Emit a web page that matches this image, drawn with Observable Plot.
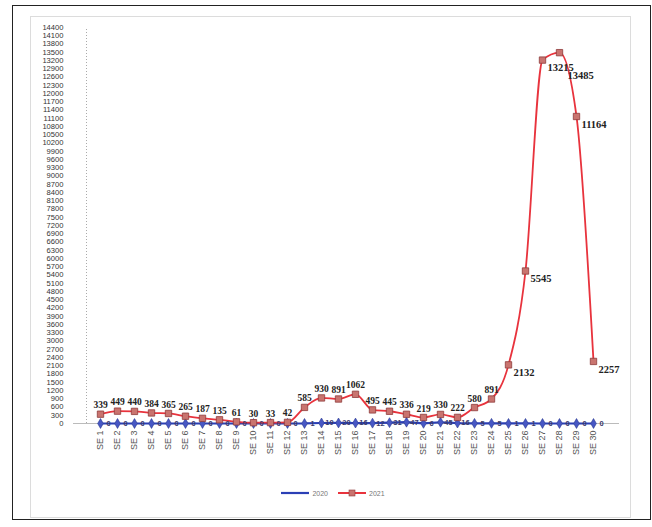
<!DOCTYPE html>
<html>
<head>
<meta charset="utf-8">
<script src="https://cdn.jsdelivr.net/npm/d3@7"></script>
<script src="https://cdn.jsdelivr.net/npm/@observablehq/plot@0.6"></script>
<style>
  body { margin: 0; background: #fff; }
  #wrap { position: relative; width: 652px; height: 527px; overflow: hidden; }
  #outer { position: absolute; left: 12px; top: 5px; width: 637px; height: 513px; border: 1.5px solid #222; }
  #inner { position: absolute; left: 30px; top: 16px; width: 599px; height: 500px; border: 1px solid #dcdcdc; }
  #chart { position: absolute; left: 0; top: 0; }
  #legend { position: absolute; left: 0; top: 489px; width: 652px; display: flex; justify-content: center; gap: 10px;
            font: 7px "Liberation Sans", sans-serif; color: #777; padding-left: 14px; box-sizing: border-box; }
  .item { display: flex; align-items: center; gap: 3px; }
</style>
</head>
<body>
<div id="wrap">
  <div id="outer"></div>
  <div id="inner"></div>
  <div id="chart"></div>
  <div id="legend"></div>
</div>
<script>
const categories = ["SE 1","SE 2","SE 3","SE 4","SE 5","SE 6","SE 7","SE 8","SE 9","SE 10",
  "SE 11","SE 12","SE 13","SE 14","SE 15","SE 16","SE 17","SE 18","SE 19","SE 20",
  "SE 21","SE 22","SE 23","SE 24","SE 25","SE 26","SE 27","SE 28","SE 29","SE 30"];
const values2020 = [0,0,0,0,0,0,0,0,0,0,0,0,1,19,20,16,12,31,47,6,45,16,5,5,1,1,0,0,0,0];
const values2021 = [339,449,440,384,365,265,187,135,61,30,33,42,585,930,891,1062,495,445,336,219,330,222,580,891,2132,5545,13215,13485,11164,2257];
const seriesNames = ["2020", "2021"];
const yTicks = d3.range(0, 14401, 300);

const rows2020 = categories.map((c, i) => ({cat: c, v: values2020[i]}));
const rows2021 = categories.map((c, i) => ({cat: c, v: values2021[i]}));
const peak = d3.max(values2021);

const red = "#e8333d";
const blue = "#2b3fb5";

const chart = Plot.plot({
  width: 652,
  height: 485,
  marginTop: 27,
  marginBottom: 62,
  marginLeft: 73,
  marginRight: 33,
  style: {fontFamily: "'Liberation Sans', sans-serif", background: "transparent"},
  x: {type: "point", domain: categories, padding: 0.784, label: null},
  y: {domain: [0, 14400], label: null},
  marks: [
    Plot.axisY({ticks: yTicks, tickFormat: d3.format("d"), tickSize: 0, tickPadding: 10, fontSize: 7.6, fill: "#333", label: null}),
    Plot.axisX({tickRotate: -90, tickSize: 0, tickPadding: 7, fontSize: 9, fill: "#555", label: null}),
    Plot.ruleX([categories[0]], {dx: -14, stroke: "#aaa", strokeDasharray: "1,2", y1: 0, y2: 14400}),
    Plot.ruleY([0], {stroke: "#bbb"}),
    Plot.line(rows2020, {x: "cat", y: "v", stroke: blue, strokeWidth: 2.2}),
    Plot.dot(rows2020, {x: "cat", y: "v", symbol: "diamond", r: 3, fill: "#4757c4", stroke: "#2b3a90", strokeWidth: 0.6}),
    Plot.line(rows2021, {x: "cat", y: "v", stroke: red, strokeWidth: 1.8, curve: "monotone-x"}),
    Plot.dot(rows2021, {x: "cat", y: "v", symbol: "square", r: 3.6, fill: "#c9746f", stroke: "#8e3b3b", strokeWidth: 0.8}),
    Plot.text(rows2020, {x: "cat", y: "v", text: d => String(d.v), dx: 8, fontSize: 7.5, fill: "#3a3a6a", fontWeight: "bold"}),
    Plot.text(rows2021, {filter: d => d.v < 2000, x: "cat", y: "v", text: d => String(d.v), dy: -9,
      fontSize: 9.5, fill: "#222", fontWeight: "bold", fontFamily: "'Liberation Serif', serif"}),
    Plot.text(rows2021, {filter: d => d.v >= 2000 && d.v < peak, x: "cat", y: "v", text: d => String(d.v), dx: 5, dy: 8, textAnchor: "start",
      fontSize: 10.5, fill: "#222", fontWeight: "bold", fontFamily: "'Liberation Serif', serif"}),
    Plot.text(rows2021, {filter: d => d.v === peak, x: "cat", y: "v", text: d => String(d.v), dx: 8, dy: 23, textAnchor: "start",
      fontSize: 10.5, fill: "#222", fontWeight: "bold", fontFamily: "'Liberation Serif', serif"})
  ]
});
document.getElementById("chart").appendChild(chart);

const legend = document.getElementById("legend");
seriesNames.forEach((name, i) => {
  const item = document.createElement("div");
  item.className = "item";
  const marker = i === 1
    ? `<svg width="28" height="8"><line x1="0" y1="4" x2="28" y2="4" stroke="${red}" stroke-width="2"/><rect x="11" y="1" width="6" height="6" fill="#c9746f" stroke="#8e3b3b" stroke-width="0.6"/></svg>`
    : `<svg width="28" height="8"><line x1="0" y1="4" x2="28" y2="4" stroke="${blue}" stroke-width="2.2"/></svg>`;
  item.innerHTML = marker + `<span>${name}</span>`;
  legend.appendChild(item);
});
</script>
</body>
</html>
